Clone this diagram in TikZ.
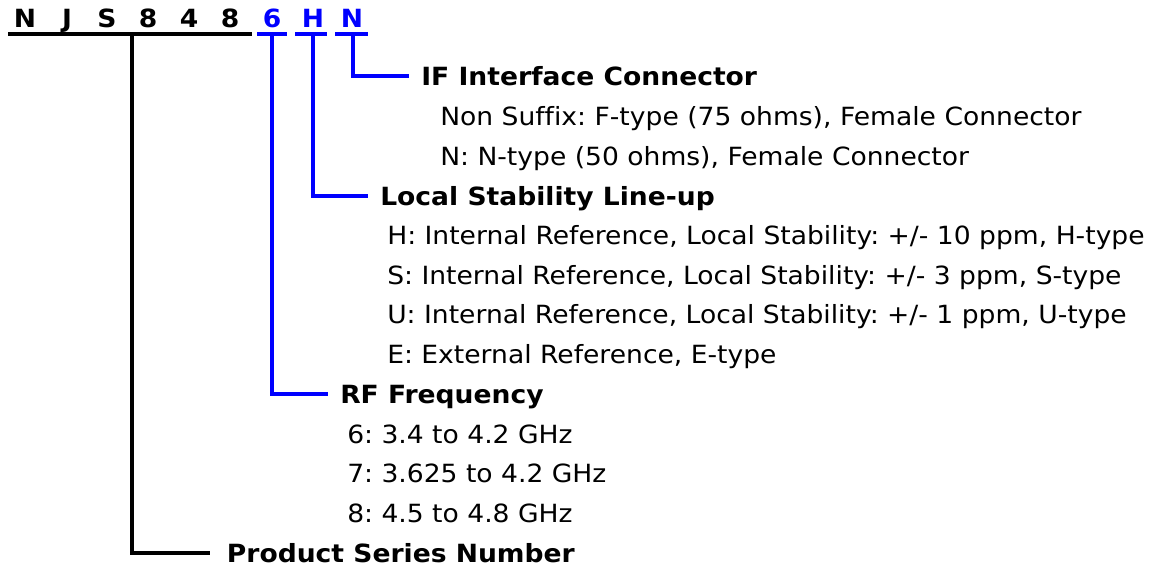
\documentclass[tikz,border=0pt]{standalone}
\usepackage{fontspec}
\setmainfont{DejaVu Sans}[FakeStretch=1.06, Ligatures=NoCommon]
\usetikzlibrary{calc}
\newcommand{\diagfont}{\fontsize{18.8pt}{22pt}\selectfont}
\frenchspacing

\tikzset{
  bar/.style={line width=2.3pt},
  code/.style={font=\diagfont\bfseries, inner sep=0pt, text height=13.5pt, text depth=0pt},
  head/.style={font=\diagfont\bfseries, anchor=west, inner xsep=9pt, inner ysep=0pt,
    text height=13.5pt, text depth=0pt},
  item/.style={font=\diagfont, anchor=base west, inner sep=0pt},
}

\begin{document}
\begin{tikzpicture}[x=0.75pt,y=-0.75pt]
\useasboundingbox (0,0) rectangle (1164,567);
% part number
\foreach \l/\x [count=\i] in {N/25,J/67,S/107,8/148,4/189,8/230} {
  \node[code] (c\i) at (\x,19) {\l};
}
\foreach \l/\x [count=\i from 7] in {6/272,H/313,N/352} {
  \node[code, blue] (c\i) at (\x,19) {\l};
}
\draw[bar] (8,34) -- (252,34);
\draw[bar,blue] (257,34) -- (287,34);
\draw[bar,blue] (295,34) -- (327,34);
\draw[bar,blue] (335,34) -- (368,34);
\coordinate (s0) at (132,34);
\coordinate (s1) at (272,34);
\coordinate (s2) at (313,34);
\coordinate (s3) at (353,34);

% headings
\node[head] (ifc) at (409,76) {IF Interface Connector};
\node[head] (lsl) at (368,196) {Local Stability Line-up};
\node[head] (rff) at (328,394) {RF Frequency};
\node[head, inner xsep=12.5pt] (psn) at (210,553) {Product Series Number};

\draw[bar,blue] (s3) |- (ifc);
\draw[bar,blue] (s2) |- (lsl);
\draw[bar,blue] (s1) |- (rff);
\draw[bar] (s0) |- (psn);

% options
\foreach \t/\y [count=\i] in {{Non Suffix: F-type (75 ohms), Female Connector}/125,
    {N: N-type (50 ohms), Female Connector}/165} {
  \node[item] (f\i) at (440,\y) {\t};
}
\foreach \t/\y [count=\i] in {{H: Internal Reference, Local Stability: +/- 10 ppm, H-type}/244,
    {S: Internal Reference, Local Stability: +/- 3 ppm, S-type}/284,
    {U: Internal Reference, Local Stability: +/- 1 ppm, U-type}/323,
    {E: External Reference, E-type}/363} {
  \node[item] (l\i) at (387,\y) {\t};
}
\foreach \t/\y [count=\i] in {{6: 3.4 to 4.2 GHz}/443,{7: 3.625 to 4.2 GHz}/482,
    {8: 4.5 to 4.8 GHz}/522} {
  \node[item] (r\i) at (347,\y) {\t};
}
\end{tikzpicture}
\end{document}
